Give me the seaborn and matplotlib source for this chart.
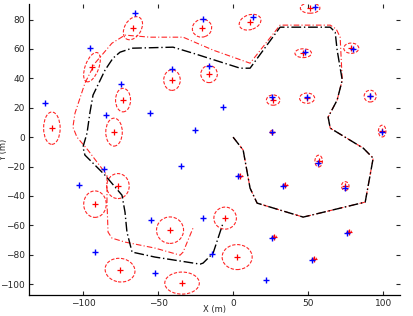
import numpy as np
import pandas as pd
import matplotlib
matplotlib.use("Agg")
import matplotlib.pyplot as plt
from matplotlib.patches import Ellipse
import seaborn as sns

# True robot path
true_x = [0, 6.7, 11.3, 16, 46.7, 88, 93.3, 86.7, 64.7, 63.3, 69.3, 72.7, 69.3, 68, 64.7, 31.3,
          11.3, 4.7, -26.7, -40, -67.3, -75.3, -80, -85.3, -93.3, -95.3, -97.3, -100, -98.7,
          -85.3, -74, -72, -70.7, -67.3, -52, -22, -20, -13.3, -6.7]
true_y = [0, -8.8, -34.7, -44.9, -54.4, -44.2, -14.3, -7.5, 6.1, 13.6, 25.2, 38.8, 59.2, 71.4,
          74.8, 74.8, 46.9, 46.9, 57.1, 61.2, 60.5, 57.8, 53.7, 45.6, 28.6, 17, 2.7, -6.8, -12.2,
          -25.9, -39.5, -51, -64.6, -78.2, -81.6, -86.4, -85.7, -78.9, -58.5]

# Estimated robot path
est_x = [0, 6.7, 11.3, 16, 46.7, 88, 93.3, 86.7, 64.7, 63.3, 69.3, 72.7, 71.3, 68.7, 64.7, 31.3,
         11.3, -13.3, -33.3, -55.3, -72, -80.7, -92, -98.7, -105.3, -106.7, -104, -96.7, -84,
         -84, -83.3, -80.7, -72, -52, -35.3, -33.3, -26.7]
est_y = [0, -8.8, -34.7, -44.9, -54.4, -44.2, -14.3, -7.5, 6.1, 13.6, 25.2, 38.8, 68, 73.5, 76.2,
         76.2, 50.3, 59.2, 68, 68, 69.4, 63.9, 50.3, 36.7, 16.3, 6.8, 0, -8.8, -25.9, -44.2,
         -64.6, -68.7, -71.4, -75.5, -80.3, -78.2, -61.9]

# True landmarks
lm_x = [-65.3, -95.3, -125.3, -55.3, -74.7, -84.7, -20, 13.3, -40.7, -16, -6.7, -25.3, 26, 54.7,
        48, 80, 49.3, 91.3, 99.3, 26, -86, -102.7, -92, -54.7, -52, -34.7, 3.3, -20, -14, 22, 26,
        56.7, 33.3, 74.7, 76, 52.7]
lm_y = [84.4, 60.5, 23.1, 16.3, 36.1, 15.0, 80.3, 81.6, 46.3, 48.3, 20.4, 4.8, 27.2, 88.4, 57.8,
        59.9, 27.2, 27.9, 3.4, 3.4, -21.8, -32.7, -78.2, -56.5, -92.5, -19.7, -26.5, -55.1, -79.6,
        -97.3, -68.7, -17.7, -33.3, -34.7, -65.3, -83.7]

# Estimated landmarks with covariance ellipses
est_lm_x = [-66.7, -94, -120.7, -73.3, -79.3, -20.7, 11.3, -40.7, -16, 26.7, 51.3, 46.7, 78.7,
            49.3, 91.3, 99.3, 26, -76.7, -92, -75.3, -42, -34, 2.7, -5.3, 4.7, 34.7, 74.7, 27.3,
            77.3, 54, 57]
est_lm_y = [74.1, 47.6, 6.1, 25.2, 3.4, 74.1, 78.2, 38.8, 42.9, 25.2, 87.8, 57.1, 60.5, 26.5,
            27.9, 4.1, 3.4, -33.3, -45.6, -90.5, -63.3, -99.3, -81.6, -55.1, -26.5, -32.7, -33.3,
            -68, -64.6, -83, -16.3]
ell_w = [11, 9, 11, 10, 11, 13, 15, 11, 11, 9, 13, 11, 10, 10, 8, 5, 3, 15, 15, 20, 18, 23, 20,
         15, 3, 3, 5, 3, 3, 3, 5]
ell_h = [17, 21, 22, 16, 19, 12, 10, 14, 11.6, 7, 7, 6, 7, 7, 8, 8, 2, 17, 18, 16, 18, 15, 17,
         15, 1.5, 1.5, 6, 1.5, 1.5, 1.5, 8]
ell_ang = [-30, -20, 0, 0, 0, 20, 20, 0, 0, 0, 0, 0, 0, 0, 0, 0, 0, 0, 0, -10, 0, 0, 0, 0, 0, 0,
           0, 20, 20, 20, 0]

sns.set_style("ticks")
plt.rcParams['font.family'] = ['DejaVu Sans']

fig = plt.figure(figsize=(4.13, 3.16), dpi=100)
ax = fig.add_axes([0.070, 0.066, 0.899, 0.921])

true_df = pd.DataFrame({"x": true_x, "y": true_y})
est_df = pd.DataFrame({"x": est_x, "y": est_y})

sns.lineplot(data=est_df, x="x", y="y", sort=False, estimator=None, ax=ax, color="red",
             linewidth=0.8, linestyle=(0, (5, 2, 1, 2)), alpha=0.85)
sns.lineplot(data=true_df, x="x", y="y", sort=False, estimator=None, ax=ax, color="black",
             linewidth=1.0, linestyle=(0, (7, 2, 1, 2)))

for cx, cy, w, h, a in zip(est_lm_x, est_lm_y, ell_w, ell_h, ell_ang):
    ax.add_patch(Ellipse((cx, cy), w, h, angle=a, fill=False, edgecolor="red",
                         linestyle=(0, (3, 1.5)), linewidth=0.8, alpha=0.85))

sns.scatterplot(x=lm_x, y=lm_y, marker="+", color="blue", s=22, linewidth=1.0, ax=ax, zorder=5)
sns.scatterplot(x=est_lm_x, y=est_lm_y, marker="+", color="red", s=22, linewidth=0.9, ax=ax,
                zorder=4)

ax.set_xlim(-136, 111.3)
ax.set_ylim(-107.5, 90.5)
ax.set_xticks([-100, -50, 0, 50, 100])
ax.set_yticks([-100, -80, -60, -40, -20, 0, 20, 40, 60, 80])
ax.tick_params(direction="in", length=3, width=0.8, labelsize=6.5, top=True, right=True,
               pad=3)
for s in ["top", "right"]:
    ax.spines[s].set_visible(False)
for s in ["left", "bottom"]:
    ax.spines[s].set_linewidth(0.9)
    ax.spines[s].set_color("black")

ax.set_xlabel("X (m)", fontsize=6)
ax.set_ylabel("Y (m)", fontsize=6)
ax.xaxis.set_label_coords(0.5, -0.033)
ax.yaxis.set_label_coords(-0.056, 0.5)

fig.savefig("out.png", dpi=100)
